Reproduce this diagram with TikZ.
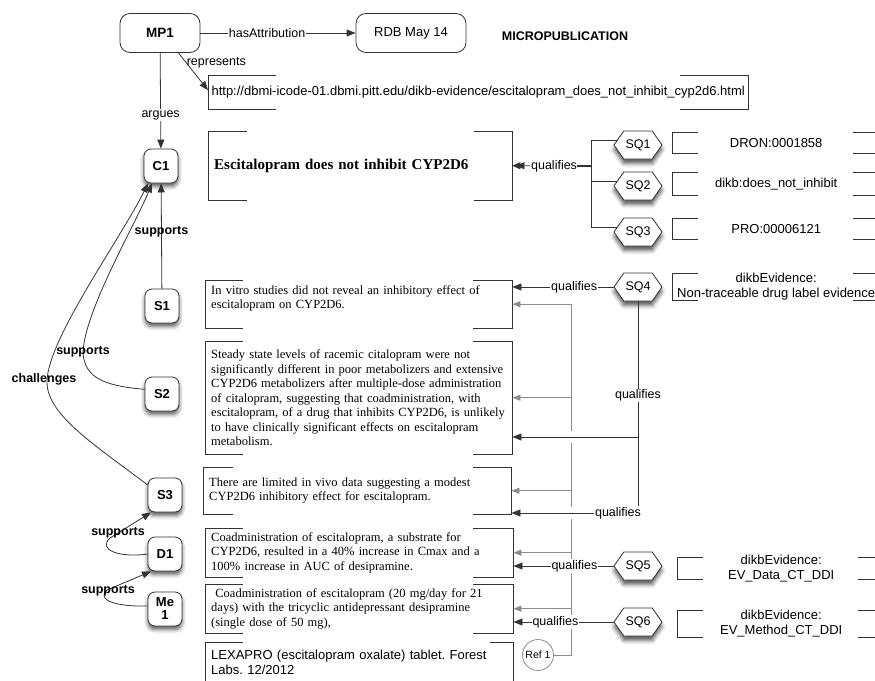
\documentclass[tikz,border=0pt]{standalone}
\usepackage{fontspec}
\setmainfont{Liberation Serif}
\setsansfont{Liberation Sans}
\usetikzlibrary{shapes.symbols, shadows.blur, arrows.meta}
\definecolor{linegray}{HTML}{333333}
\definecolor{refgray}{HTML}{8C8C8C}
\frenchspacing

\newcommand{\brk}[3]{%
\draw[boxline] ([xshift=#2]#1.north west) -- (#1.north west) -- (#1.south west) -- ([xshift=#2]#1.south west);
\draw[boxline] ([xshift=-#3]#1.north east) -- (#1.north east) -- (#1.south east) -- ([xshift=-#3]#1.south east);}

\begin{document}
\begin{tikzpicture}[x=1pt, y=-1pt, font=\sffamily]
\tikzstyle{mpbox} = [rectangle, rounded corners=10pt, draw=linegray, line width=0.8pt, minimum height=39pt, font=\sffamily\fontsize{13}{15}\selectfont]
\tikzstyle{claim} = [rectangle, rounded corners=7pt, draw=linegray, line width=0.8pt, fill=white, minimum width=34pt, minimum height=34pt, inner sep=1pt, align=center, font=\sffamily\bfseries\fontsize{13}{13}\selectfont, blur shadow={shadow xshift=0pt, shadow yshift=-3.5pt, shadow blur radius=4pt, shadow opacity=65}]
\tikzstyle{sq} = [signal, signal to=east and west, signal pointer angle=110, draw=linegray, line width=0.8pt, fill=white, minimum width=48pt, minimum height=28pt, inner sep=0pt, font=\sffamily\fontsize{12.5}{13}\selectfont, blur shadow={shadow xshift=0pt, shadow yshift=-4.5pt, shadow blur radius=4pt, shadow opacity=65}]
\tikzstyle{evid} = [anchor=north west, inner xsep=6pt, inner ysep=0pt, align=left, font=\rmfamily\fontsize{12.5}{14.5}\selectfont]
\tikzstyle{refbox} = [anchor=north west, inner sep=0pt, align=center, font=\sffamily\fontsize{13}{15}\selectfont]
\tikzstyle{reftext} = [align=center, inner sep=0pt, font=\sffamily\fontsize{13}{15}\selectfont]
\tikzstyle{boxline} = [draw=linegray, line width=0.8pt]
\tikzstyle{con} = [draw=linegray, line width=0.8pt, -{Triangle[length=9pt,width=7pt]}]
\tikzstyle{gcon} = [draw=refgray, line width=0.8pt, -{Triangle[length=8pt,width=6pt]}]
\tikzstyle{lbl} = [fill=white, inner sep=1pt, font=\sffamily\fontsize{12.5}{13}\selectfont]
\tikzstyle{suplbl} = [inner sep=0pt, font=\sffamily\bfseries\fontsize{12.5}{13}\selectfont]

\useasboundingbox (0,0) rectangle (875,680);

\node (mp1) [mpbox, minimum width=80pt, font=\sffamily\bfseries\fontsize{13.5}{15}\selectfont] at (160,33) {MP1};
\node (rdb) [mpbox, minimum width=110pt] at (411,33) {RDB May 14};
\node (mpub) [font=\sffamily\bfseries\fontsize{12.5}{13}\selectfont] at (565,36) {MICROPUBLICATION};
\node (url) [refbox, minimum width=540pt, minimum height=34pt] at (208,75) {http://dbmi-icode-01.dbmi.pitt.edu/dikb-evidence/escitalopram\_does\_not\_inhibit\_cyp2d6.html};

\node (c1) [claim] at (161,166) {C1};
\node (s1) [claim] at (162,306) {S1};
\node (s2) [claim] at (162,394) {S2};
\node (s3) [claim] at (165,495) {S3};
\node (d1) [claim] at (165,554) {D1};
\node (me1) [claim] at (165,609) {Me\\1};

\node (c1t) [evid, text width=292pt, minimum height=69pt, font=\rmfamily\bfseries\fontsize{15}{17}\selectfont] at (208,131) {Escitalopram does not inhibit CYP2D6};
\node (s1t) [evid, text width=295pt, minimum height=48pt] at (205,280) {In vitro studies did not reveal an inhibitory effect of\\escitalopram on CYP2D6.\\\mbox{}};
\node (s2t) [evid, text width=295pt, minimum height=113pt] at (205,341) {Steady state levels of racemic citalopram were not\\significantly different in poor metabolizers and extensive\\CYP2D6 metabolizers after multiple-dose administration\\of citalopram, suggesting that coadministration, with\\escitalopram, of a drug that inhibits CYP2D6, is unlikely\\to have clinically significant effects on escitalopram\\metabolism.};
\node (s3t) [evid, text width=296pt, minimum height=47pt] at (203,467) {There are limited in vivo data suggesting a modest\\CYP2D6 inhibitory effect for escitalopram.};
\node (d1t) [evid, text width=296pt, minimum height=49pt] at (205,528) {Coadministration of escitalopram, a substrate for\\CYP2D6, resulted in a 40\% increase in Cmax and a\\100\% increase in AUC of desipramine.};
\node (me1t) [evid, text width=296pt, minimum height=49pt] at (205,584) {\ Coadministration of escitalopram (20 mg/day for 21\\days) with the tricyclic antidepressant desipramine\\(single dose of 50 mg),};
\node (lex) [evid, text width=296pt, minimum height=40pt, font=\sffamily\fontsize{13}{15}\selectfont] at (205,642) {LEXAPRO (escitalopram oxalate) tablet. Forest\\Labs. 12/2012};

\node (sq1) [sq] at (638,145) {SQ1};
\node (sq2) [sq] at (638,186) {SQ2};
\node (sq3) [sq] at (638,232) {SQ3};
\node (sq4) [sq] at (638,287) {SQ4};
\node (sq5) [sq] at (638,566) {SQ5};
\node (sq6) [sq] at (638,622) {SQ6};

\node (r1) [refbox, minimum width=208pt, minimum height=21pt, label={[reftext]center:DRON:0001858}] at (672,132) {};
\node (r2) [refbox, minimum width=208pt, minimum height=23pt, label={[reftext]center:dikb:does\_not\_inhibit}] at (672,172) {};
\node (r3) [refbox, minimum width=208pt, minimum height=21pt, label={[reftext]center:PRO:00006121}] at (672,218) {};
\node (r4) [refbox, minimum width=208pt, minimum height=27pt, label={[reftext]center:{dikbEvidence:\\Non-traceable drug label evidence}}] at (672,273) {};
\node (r5) [refbox, minimum width=208pt, minimum height=22pt, label={[reftext]center:{dikbEvidence:\\EV\_Data\_CT\_DDI}}] at (677,557) {};
\node (r6) [refbox, minimum width=208pt, minimum height=27pt, label={[reftext]center:{dikbEvidence:\\EV\_Method\_CT\_DDI}}] at (677,610) {};

\node (ref1) [circle, draw=refgray, line width=0.8pt, minimum size=31pt, inner sep=0pt, font=\sffamily\fontsize{10.5}{11}\selectfont] at (538,655) {Ref 1};

\brk{url}{68pt}{68pt}
\brk{c1t}{39pt}{38pt}
\brk{s1t}{38pt}{39pt}
\brk{s2t}{38pt}{39pt}
\brk{s3t}{30pt}{38pt}
\brk{d1t}{38pt}{40pt}
\brk{me1t}{38pt}{40pt}
\brk{lex}{38pt}{23pt}
\brk{r1}{26pt}{27pt}
\brk{r2}{26pt}{27pt}
\brk{r3}{26pt}{27pt}
\brk{r4}{26pt}{27pt}
\brk{r5}{26pt}{27pt}
\brk{r6}{26pt}{27pt}

\coordinate (tr) at (571,0);
\draw[gcon] (ref1.east) -| (tr |- s1t.east) -- (s1t.east);
\foreach \b in {s2t,s3t,d1t,me1t}
  \draw[gcon] (tr |- \b.east) -- (\b.east);
\foreach \y in {437,513}
  \fill[white] (567,{\y-6}) rectangle (575,{\y+6});

\draw[con] (mp1) -- node[lbl, pos=0.43] {hasAttribution} (rdb);
\draw[con] ([xshift=-22pt]mp1.south east) -- node[pos=0.27, anchor=west, inner sep=0pt, font=\sffamily\fontsize{12.5}{13}\selectfont] {represents} ([yshift=2pt]url.west);
\draw[con] (mp1) -- node[lbl, pos=0.65] {argues} (c1);

\coordinate (jq) at (591,166);
\draw[con, line width=0.8pt, -{Triangle[length=8pt,width=7pt,sep=-4pt]Triangle[length=8pt,width=7pt]}] (jq) -- node[lbl, pos=0.47] {qualifies} (c1t.east);
\draw[con, line width=1.6pt, -] (jq) -- ++(-14,0);
\draw[con, -] (jq) |- (sq1.168);
\draw[con, -] (jq) |- (sq2.168);
\draw[con, -] (jq) |- (sq3.168);

\node (q3) [lbl] at (618,513) {qualifies};
\coordinate (j4) at (638,437);
\draw[con] (sq4.west) -- node[lbl, pos=0.39] {qualifies} (sq4.west -| s1t.east);
\draw[con, -] (sq4.south) -- node[lbl, pos=0.46] {qualifies} (sq4.south |- q3.north);
\draw[con] (j4) -- (j4 -| s2t.east);
\draw[con] (q3.west) -- (q3.west -| s3t.east);
\draw[con] (sq5.west) -- node[lbl, pos=0.39] {qualifies} (sq5.west -| d1t.east);
\draw[con] (sq6.west) -- node[lbl, pos=0.58] {qualifies} (sq6.west -| me1t.east);

\draw[con] (s1) -- node[suplbl, pos=0.54] {supports} (c1);
\draw[con] (s2.165) .. controls (105,386) and (84,378) .. (83,352) node[suplbl] {supports} .. controls (85,310) and (135,225) .. ([xshift=-9pt]c1.south);
\draw[con] (s3.150) .. controls (95,445) and (47,415) .. (47,382) node[suplbl, xshift=-3pt, yshift=3pt] {challenges} .. controls (47,340) and (120,240) .. ([xshift=-13pt]c1.south);
\draw[con] (d1.west) .. controls (120,558) and (97,550) .. (110,538) node[suplbl, xshift=8pt, yshift=5pt] {supports} -- ([xshift=-14pt]s3.south);
\draw[con] (me1.170) .. controls (120,607) and (95,601) .. (107,590) node[suplbl, xshift=1pt, yshift=-1pt] {supports} -- ([xshift=-14pt]d1.south);
\end{tikzpicture}
\end{document}
